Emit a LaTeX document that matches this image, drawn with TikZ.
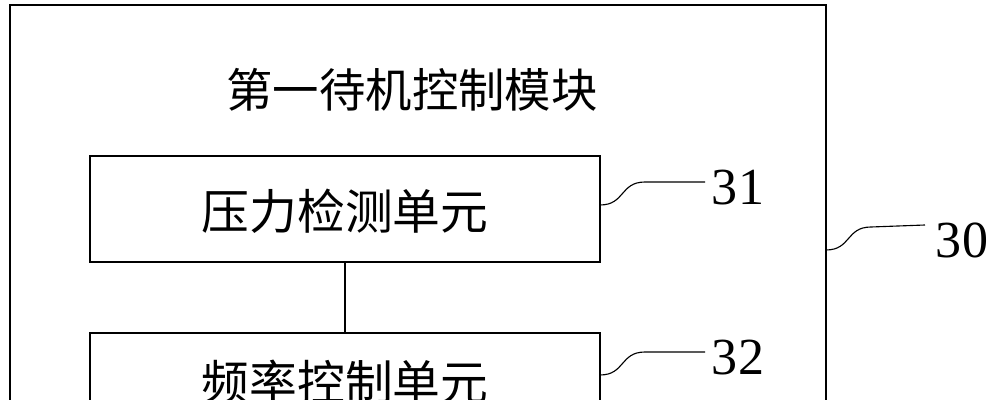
\documentclass[tikz,border=0pt]{standalone}
\usepackage{fontspec}
\usetikzlibrary{calc}
\setmainfont{Liberation Serif}
\newfontfamily\cjk{Noto Sans CJK SC}
\begin{document}
\begin{tikzpicture}[x=0.025cm,y=-0.025cm,
  box/.style={draw,line width=1pt},
  lead/.style={line width=0.8pt},
  num/.style={font=\fontsize{37}{40}\selectfont},
  cn/.style={font=\cjk\fontsize{34}{38}\selectfont}]
\useasboundingbox (0,0) rectangle (996,400);
\clip (0,0) rectangle (996,400);
\draw[box] (10,420) -- (10,5) -- (826,5) -- (826,420);
\node[cn,font=\cjk\fontsize{33}{38}\selectfont] (t) at (412,90) {第一待机控制模块};
\draw[box] (90,156) rectangle (600,262);
\node[cn] (a) at (345,211) {压力检测单元};
\draw[box] (90,333) rectangle (600,420);
\node[cn] (b) at (345,382) {频率控制单元};
\coordinate (a1) at (345,262); \coordinate (b1) at (345,333);
\draw[line width=1.2pt] (a1) -- (b1);
\node[num] (n31) at (738,188) {31};
\node[num] (n32) at (738,358) {32};
\node[num] (n30) at (962,240) {30};
\coordinate (p1) at (600,205); \coordinate (q1) at (705,182);
\coordinate (p2) at (600,375); \coordinate (q2) at (705,352);
\coordinate (p3) at (826,250); \coordinate (q3) at (925,225);
\foreach \p/\q in {p1/q1,p2/q2,p3/q3}
  \draw[lead] (\p) .. controls ($(\p)+(25,0)$) and ($(\p)+(20,-23)$) .. ($(\p)+(45,-23)$) -- (\q);
\end{tikzpicture}
\end{document}
